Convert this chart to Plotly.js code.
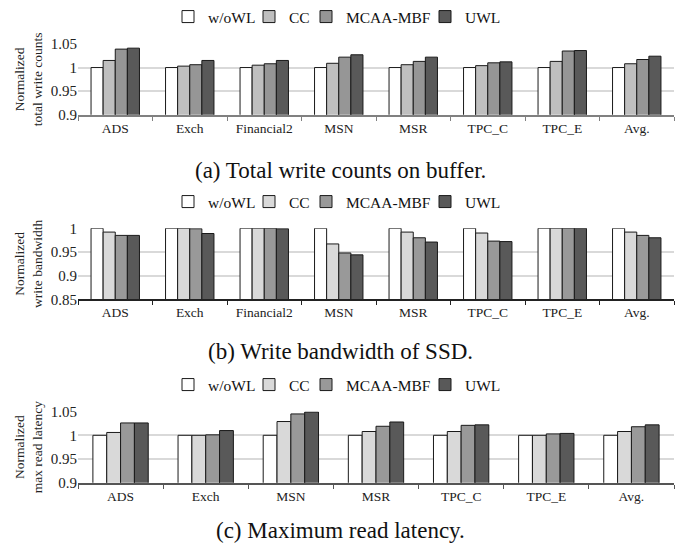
<!DOCTYPE html>
<html>
<head>
<meta charset="utf-8">
<script src="https://cdn.plot.ly/plotly-3.0.1.min.js"></script>
<style>
html,body{margin:0;padding:0;background:#fff;}
#chart{width:675px;height:548px;}
</style>
</head>
<body>
<div id="chart"></div>
<script>
// ---- Data ----
var seriesNames = ["w/oWL", "CC", "MCAA-MBF", "UWL"];

var catsA = ["ADS", "Exch", "Financial2", "MSN", "MSR", "TPC_C", "TPC_E", "Avg."];
var a_wowl = [1.000, 1.000, 1.000, 1.000, 1.000, 1.000, 1.000, 1.000];
var a_cc   = [1.015, 1.003, 1.005, 1.009, 1.006, 1.004, 1.013, 1.008];
var a_mcaa = [1.039, 1.006, 1.008, 1.022, 1.013, 1.010, 1.035, 1.017];
var a_uwl  = [1.041, 1.015, 1.015, 1.027, 1.022, 1.012, 1.036, 1.024];

var catsB = ["ADS", "Exch", "Financial2", "MSN", "MSR", "TPC_C", "TPC_E", "Avg."];
var b_wowl = [1.000, 1.000, 1.000, 1.000, 1.000, 1.000, 1.000, 1.000];
var b_cc   = [0.992, 1.000, 1.000, 0.967, 0.992, 0.990, 1.000, 0.992];
var b_mcaa = [0.985, 0.999, 1.000, 0.948, 0.980, 0.973, 1.000, 0.985];
var b_uwl  = [0.985, 0.989, 0.999, 0.944, 0.971, 0.972, 1.000, 0.980];

var catsC = ["ADS", "Exch", "MSN", "MSR", "TPC_C", "TPC_E", "Avg."];
var c_wowl = [1.000, 1.000, 1.000, 1.000, 1.000, 1.000, 1.000];
var c_cc   = [1.006, 1.000, 1.029, 1.008, 1.008, 1.000, 1.008];
var c_mcaa = [1.026, 1.001, 1.045, 1.019, 1.021, 1.003, 1.018];
var c_uwl  = [1.026, 1.010, 1.049, 1.028, 1.022, 1.004, 1.022];

var yTicksA = [0.9, 0.95, 1, 1.05];
var yTicksB = [0.85, 0.9, 0.95, 1];
var yTicksC = [0.9, 0.95, 1, 1.05];

var captions = ["(a) Total write counts on buffer.", "(b) Write bandwidth of SSD.", "(c) Maximum read latency."];
var yTitles = ["Normalized<br>total write counts", "Normalized<br>write bandwidth", "Normalized<br>max read latency"];

// ---- Styles ----
var colorsA = ["#ffffff", "#bfbfbf", "#969696", "#595959"];
var colorsBC = ["#ffffff", "#d9d9d9", "#999999", "#595959"];
var legendWidths = [36, 12, 74, 40];
var serif = "Liberation Serif";

function makeTraces(cats, vals, colors, xa, ya, legendId) {
  return vals.map(function (v, i) {
    return {
      type: "bar",
      x: cats, y: v,
      name: seriesNames[i],
      xaxis: xa, yaxis: ya,
      legend: legendId,
      legendwidth: legendWidths[i],
      marker: {color: colors[i], line: {color: "#1a1a1a", width: 1}},
      hoverinfo: "x+y+name"
    };
  });
}

var data = []
  .concat(makeTraces(catsA, [a_wowl, a_cc, a_mcaa, a_uwl], colorsA, "x", "y", "legend"))
  .concat(makeTraces(catsB, [b_wowl, b_cc, b_mcaa, b_uwl], colorsBC, "x2", "y2", "legend2"))
  .concat(makeTraces(catsC, [c_wowl, c_cc, c_mcaa, c_uwl], colorsBC, "x3", "y3", "legend3"));

var H = 548;
function fy(px) { return 1 - px / H; }

function xAxis(anchor, lineColor) {
  return {
    anchor: anchor,
    domain: [78 / 675, 674 / 675],
    type: "category",
    tickson: "boundaries",
    ticks: "outside", ticklen: 4, tickcolor: lineColor, tickwidth: 1,
    showline: true, linecolor: lineColor, linewidth: 1.5,
    showgrid: false, zeroline: false,
    tickfont: {family: serif, size: 13.5, color: "#222"},
    fixedrange: true
  };
}
function yAxis(anchor, domain, range, tickvals, title) {
  return {
    anchor: anchor,
    domain: domain,
    range: range,
    tickvals: tickvals,
    ticktext: tickvals.map(function (t) { return String(t); }),
    showline: false, zeroline: false,
    showgrid: true, gridcolor: "#d9d9d9", gridwidth: 1.5,
    ticks: "",
    tickfont: {family: serif, size: 15, color: "#222"},
    title: {text: title, font: {family: serif, size: 13.5, color: "#222"}, standoff: 5},
    fixedrange: true
  };
}

function legendAt(ypx) {
  return {
    orientation: "h",
    x: 168 / 675, xanchor: "left",
    y: fy(ypx), yanchor: "middle",
    font: {family: serif, size: 15.5, color: "#111"},
    itemwidth: 30,
    entrywidthmode: "pixels",
    tracegroupgap: 0,
    bgcolor: "rgba(0,0,0,0)",
    itemclick: false, itemdoubleclick: false
  };
}

var layout = {
  width: 675, height: 548,
  margin: {l: 0, r: 0, t: 0, b: 0},
  paper_bgcolor: "#fff", plot_bgcolor: "#fff",
  barmode: "group", bargap: 0.35, bargroupgap: 0,
  showlegend: true,
  xaxis: xAxis("y", "#808080"),
  yaxis: yAxis("x", [fy(114), fy(43)], [0.9, 1.05], yTicksA, yTitles[0]),
  xaxis2: xAxis("y2", "#222222"),
  yaxis2: yAxis("x2", [fy(299), fy(227.7)], [0.85, 1.0], yTicksB, yTitles[1]),
  xaxis3: xAxis("y3", "#555555"),
  yaxis3: yAxis("x3", [fy(482.7), fy(411.3)], [0.9, 1.05], yTicksC, yTitles[2]),
  legend: legendAt(15.7),
  legend2: legendAt(202),
  legend3: legendAt(385),
  annotations: [
    {text: captions[0], xref: "paper", yref: "paper", x: 0.505, y: fy(170), xanchor: "center", yanchor: "middle", showarrow: false, font: {family: serif, size: 23, color: "#111"}},
    {text: captions[1], xref: "paper", yref: "paper", x: 0.505, y: fy(351), xanchor: "center", yanchor: "middle", showarrow: false, font: {family: serif, size: 23, color: "#111"}},
    {text: captions[2], xref: "paper", yref: "paper", x: 0.505, y: fy(530), xanchor: "center", yanchor: "middle", showarrow: false, font: {family: serif, size: 23, color: "#111"}}
  ]
};

Plotly.newPlot("chart", data, layout, {displayModeBar: false});
</script>
</body>
</html>
